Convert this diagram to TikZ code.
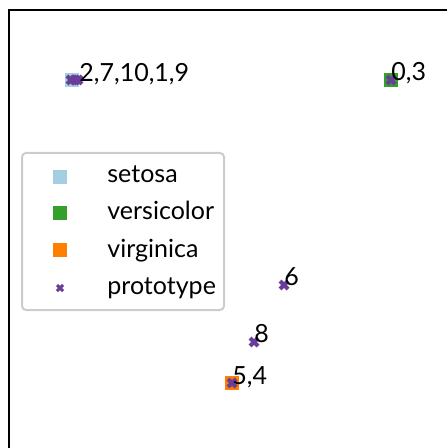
\documentclass[tikz,border=0pt]{standalone}
\usepackage{fontspec}
\setmainfont{Lato}
\usepackage{tikz}
\usetikzlibrary{shapes.misc}

\definecolor{setosacol}{HTML}{A6CEE3}
\definecolor{versicol}{HTML}{33A02C}
\definecolor{virgcol}{HTML}{FF7F00}
\definecolor{protocol}{HTML}{6A3D9A}

\begin{document}
\begin{tikzpicture}[x=0.5pt, y=-0.5pt,
  every node/.style={font=\fontsize{12.5}{15}\selectfont},
  sq/.style={rectangle, inner sep=0, outer sep=0, minimum size=7pt},
  proto/.style={cross out, draw=protocol, line width=2pt, inner sep=0, outer sep=0, minimum size=4pt},
  lbl/.style={anchor=base west, inner sep=0}]
\useasboundingbox (0,0) rectangle (447,448);
\draw [line width=1pt] (9,448) -- (9,10) -- (447,10);

% points and prototypes
\node [sq, fill=setosacol] (s1) at (72,80) {};
\node [proto] (p1) at (71,80) {}; \node [proto] (p2) at (75,80) {}; \node [proto] (p3) at (78,80) {};
\node [lbl] (l1) at (79,82) {2,7,10,1,9};

\node [sq, fill=versicol] (v1) at (391,80) {};
\node [proto] (p4) at (391,80) {};
\node [lbl] (l2) at (391,81) {0,3};

\node [proto] (p5) at (284,285) {};
\node [lbl] (l3) at (284,285) {6};

\node [proto] (p6) at (254,342) {};
\node [lbl] (l4) at (254,342) {8};

\node [sq, fill=virgcol] (g1) at (232,383) {};
\node [proto] (p7) at (232,383) {};
\node [lbl] (l5) at (232,384) {5,4};

% legend
\draw [draw=black!20, fill=white, line width=1pt, rounded corners=2pt] (22,153) rectangle (224,310);
\node [sq, fill=setosacol] (k1) at (60,177) {}; \node [lbl] at (107,183) {setosa};
\node [sq, fill=versicol] (k2) at (60,213) {}; \node [lbl] at (107,220) {versicolor};
\node [sq, fill=virgcol] (k3) at (60,250) {}; \node [lbl] at (107,257) {virginica};
\node [proto, line width=1.5pt, minimum size=3pt] (k4) at (60,288) {}; \node [lbl] at (107,294) {prototype};
\end{tikzpicture}
\end{document}
